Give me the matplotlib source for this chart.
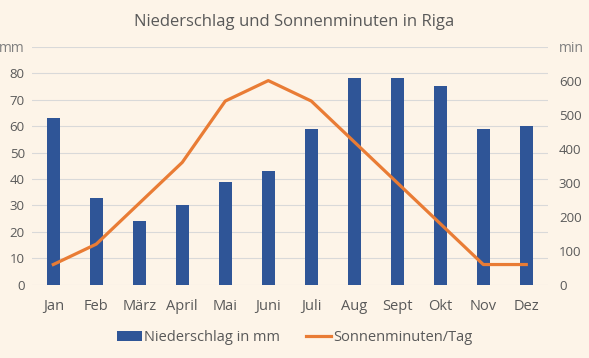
import numpy as np
import matplotlib.pyplot as plt

# Monatswerte Riga
monate = ['Jan', 'Feb', 'März', 'April', 'Mai', 'Juni', 'Juli', 'Aug', 'Sept', 'Okt', 'Nov', 'Dez']
niederschlag = [63, 33, 24, 30, 39, 43, 59, 78, 78, 75, 59, 60]
sonnenminuten = [60, 120, 240, 360, 540, 600, 540, 420, 300, 180, 60, 60]

mm_ticks = [0, 10, 20, 30, 40, 50, 60, 70, 80, 90]
mm_labels = ['0', '10', '20', '30', '40', '50', '60', '70', '80', 'mm']
min_ticks = [0, 100, 200, 300, 400, 500, 600, 700]
min_labels = ['0', '100', '200', '300', '400', '500', '600', 'min']

bg = '#FDF4E8'
blau = '#2F5597'
orange = '#E97C35'
grau = '#595959'

plt.rcParams['font.family'] = ['Open Sans', 'DejaVu Sans']

fig = plt.figure(figsize=(5.89, 3.58), dpi=100, facecolor=bg)
ax = fig.add_axes([0.054, 0.204, 0.876, 0.666])
ax.set_facecolor(bg)

x = np.arange(len(monate))
ax.bar(x, niederschlag, width=0.3, color=blau, label='Niederschlag in mm', zorder=2)
ax.set_ylim(0, 90)
ax.set_yticks(mm_ticks)
ax.set_yticklabels(mm_labels)
ax.set_xlim(-0.5, len(monate) - 0.5)
ax.set_xticks(x)
ax.set_xticklabels(monate)
ax.grid(axis='y', color='#D9D9D9', linewidth=0.8, zorder=0)
ax.tick_params(axis='y', length=0, colors=grau, labelsize=9.5, pad=5)
ax.tick_params(axis='x', length=0, colors=grau, labelsize=10.5, pad=10)
for s in ax.spines.values():
    s.set_visible(False)

ax2 = ax.twinx()
ax2.plot(x, sonnenminuten, color=orange, linewidth=2.3, label='Sonnenminuten/Tag', zorder=3)
ax2.set_ylim(0, 700)
ax2.set_yticks(min_ticks)
ax2.set_yticklabels(min_labels)
ax2.tick_params(axis='y', length=0, colors=grau, labelsize=9.5, pad=8)
for s in ax2.spines.values():
    s.set_visible(False)

# mm / min Beschriftung etwas heller
for lab in ax.get_yticklabels()[-1:] + ax2.get_yticklabels()[-1:]:
    lab.set_fontsize(10)
    lab.set_color('#7F7F7F')

fig.suptitle('Niederschlag und Sonnenminuten in Riga', y=0.96, fontsize=12, color=grau)

h1, l1 = ax.get_legend_handles_labels()
h2, l2 = ax2.get_legend_handles_labels()
fig.legend(h1 + h2, l1 + l2, loc='center', bbox_to_anchor=(0.5, 0.056), ncol=2,
           frameon=False, fontsize=10.5, labelcolor=grau, handlelength=1.7,
           handletextpad=0.15, columnspacing=1.8)

fig.savefig('out.png', dpi=100, facecolor=bg)
